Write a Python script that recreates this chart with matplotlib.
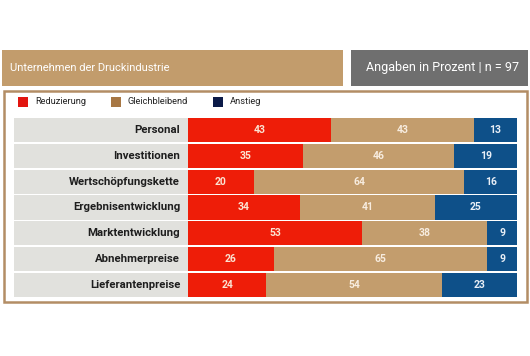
import matplotlib
matplotlib.use("Agg")
import matplotlib.pyplot as plt
from matplotlib.patches import Rectangle
import numpy as np

plt.rcParams['font.family'] = ['Roboto', 'DejaVu Sans']

categories = ["Personal", "Investitionen", "Wertschöpfungskette", "Ergebnisentwicklung",
              "Marktentwicklung", "Abnehmerpreise", "Lieferantenpreise"]
reduzierung = [43, 35, 20, 34, 53, 26, 24]
gleichbleibend = [43, 46, 64, 41, 38, 65, 54]
anstieg = [13, 19, 16, 25, 9, 9, 23]
series_names = ["Reduzierung", "Gleichbleibend", "Anstieg"]
title_left = "Unternehmen der Druckindustrie"
title_right = "Angaben in Prozent | n = 97"

W, H = 530, 356
fig = plt.figure(figsize=(W / 100, H / 100), dpi=100)
fig.patch.set_facecolor("white")

def px(x0, y0, x1, y1):
    return [x0 / W, 1 - y1 / H, (x1 - x0) / W, (y1 - y0) / H]

def frect(x0, y0, x1, y1, **kw):
    r = Rectangle((x0 / W, 1 - y1 / H), (x1 - x0) / W, (y1 - y0) / H,
                  transform=fig.transFigure, **kw)
    fig.patches.append(r)
    return r

# header boxes
frect(2, 50, 343, 86, facecolor="#c29c6c", edgecolor="none")
fig.text(10 / W, 1 - 68 / H, title_left, color="white", fontsize=8, va="center", ha="left")
frect(351, 50, 528, 86, facecolor="#6f6f6f", edgecolor="none")
fig.text(519 / W, 1 - 68 / H, title_right, color="white", fontsize=9, va="center", ha="right")

# main frame
frect(3.5, 90.5, 526.5, 301.5, facecolor="white", edgecolor="#b38d65", linewidth=1.8, zorder=-1)

# legend
leg_colors = ["#e2150f", "#a77744", "#0b1a48"]
leg_x = [18, 111, 213]
for name, c, x in zip(series_names, leg_colors, leg_x):
    frect(x, 97, x + 10, 107, facecolor=c, edgecolor="none")
    fig.text((x + 17) / W, 1 - 102 / H, name, fontsize=6.7, va="center", ha="left", color="#222222")

n = len(categories)
y = np.arange(n)
bar_h = 0.93

# label axes
axl = fig.add_axes(px(14, 117, 188, 298))
axl.barh(y, [1] * n, left=0, height=bar_h, color="#e1e1dd")
for yi, cat in zip(y, categories):
    axl.text(0.955, yi, cat, ha="right", va="center", fontsize=8.2, fontweight="bold", color="#1e1e1e")
axl.set_xlim(0, 1)
axl.set_ylim(n - 0.5, -0.5)
axl.axis("off")

# bar axes
ax = fig.add_axes(px(188, 117, 517, 298))
data = np.array([reduzierung, gleichbleibend, anstieg], dtype=float)
totals = data.sum(axis=0)
shares = data / totals * 100
bar_colors = ["#ee1d08", "#c39d6d", "#0e5089"]
text_colors = ["#fbe3d2", "#f7ecdf", "#e8eef6"]
left = np.zeros(n)
for k in range(3):
    ax.barh(y, shares[k], left=left, height=bar_h, color=bar_colors[k], linewidth=0)
    for i in range(n):
        ax.text(left[i] + shares[k][i] / 2, y[i], f"{int(data[k][i])}", ha="center", va="center",
                fontsize=7.5, fontweight="bold", color=text_colors[k])
    left += shares[k]
ax.set_xlim(0, 100)
ax.set_ylim(n - 0.5, -0.5)
ax.axis("off")

fig.savefig("out.png", dpi=100, facecolor="white")
